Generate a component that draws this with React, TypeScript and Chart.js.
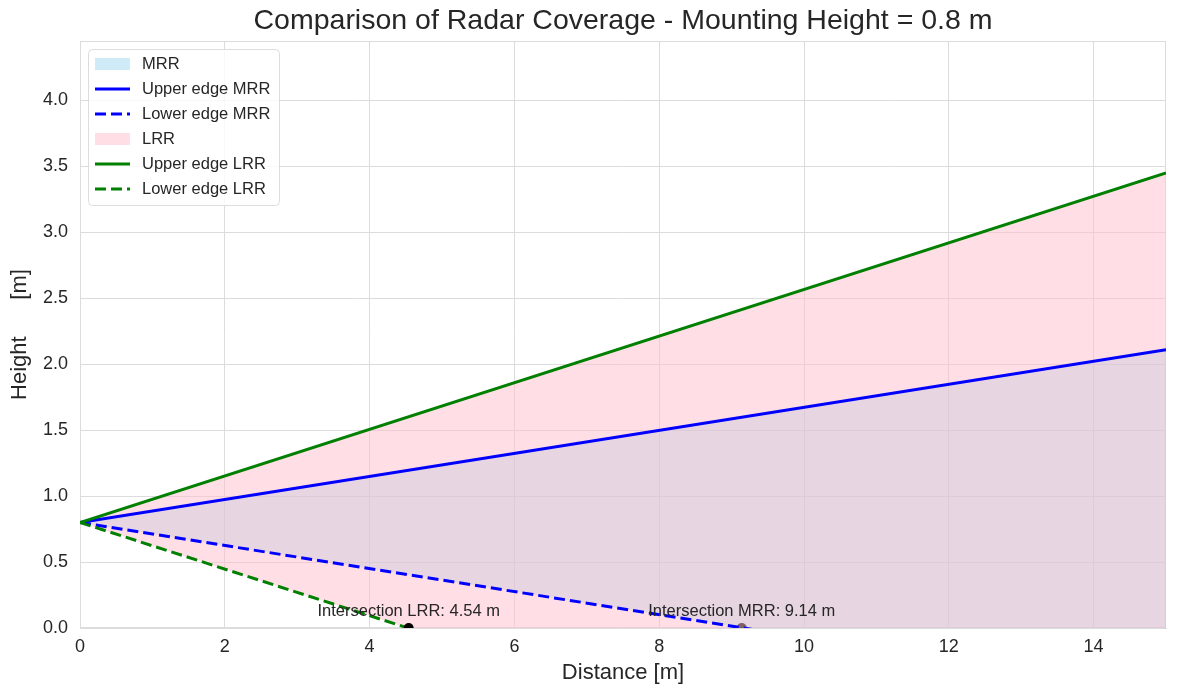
import { useEffect, useRef } from "react";
import { Chart, registerables } from "chart.js";

Chart.register(...registerables);

// distances [m] at which the edge lines are evaluated
const distance = [0, 15];
// edge heights [m] at those distances
const mrrUpper = [0.8, 2.11];
const mrrLower = [0.8, -0.51];
const lrrUpper = [0.8, 3.45];
const lrrLower = [0.8, -1.85];
// where the lower edges hit the ground
const intersectionLRR = 4.54;
const intersectionMRR = 9.14;
const intersectionLabels = ["Intersection LRR: 4.54 m", "Intersection MRR: 9.14 m"];
const legendLabels = ["MRR", "Upper edge MRR", "Lower edge MRR", "LRR", "Upper edge LRR", "Lower edge LRR"];

const FONT = "'Liberation Sans', Arial, sans-serif";
const TEXT = "#262626";
const GRID = "#dcdcdc";
const MRR_FILL = "rgba(135, 206, 235, 0.4)";
const LRR_FILL = "rgba(255, 192, 203, 0.5)";
const DASH = [11, 5];

const toPoints = (ys: number[]) => distance.map((x, i) => ({ x, y: ys[i] }));

const legendStyles = [
  { kind: "fill", color: MRR_FILL },
  { kind: "line", color: "#0000ff", dash: [] as number[] },
  { kind: "line", color: "#0000ff", dash: DASH },
  { kind: "fill", color: LRR_FILL },
  { kind: "line", color: "#008000", dash: [] as number[] },
  { kind: "line", color: "#008000", dash: DASH },
];

const decor = {
  id: "decor",
  beforeDatasetsDraw(chart: any) {
    const { ctx, chartArea } = chart;
    ctx.save();
    ctx.strokeStyle = GRID;
    ctx.lineWidth = 1;
    ctx.strokeRect(chartArea.left + 0.5, chartArea.top + 0.5, chartArea.right - chartArea.left - 1, chartArea.bottom - chartArea.top - 1);
    ctx.restore();
  },
  afterDatasetsDraw(chart: any) {
    const { ctx, chartArea, scales } = chart;
    ctx.save();

    // intersection labels
    ctx.font = `16.5px ${FONT}`;
    ctx.fillStyle = TEXT;
    ctx.textAlign = "center";
    ctx.textBaseline = "alphabetic";
    [intersectionLRR, intersectionMRR].forEach((x, i) => {
      ctx.fillText(intersectionLabels[i], scales.x.getPixelForValue(x), scales.y.getPixelForValue(0) - 12);
    });

    // legend box
    const bx = chartArea.left + 8;
    const by = chartArea.top + 8;
    ctx.beginPath();
    ctx.roundRect(bx + 0.5, by + 0.5, 191, 156, 4);
    ctx.fillStyle = "rgba(255,255,255,0.8)";
    ctx.fill();
    ctx.strokeStyle = "#dddddd";
    ctx.lineWidth = 1;
    ctx.stroke();

    legendLabels.forEach((label, i) => {
      const cy = by + 15 + 25 * i;
      const st = legendStyles[i];
      if (st.kind === "fill") {
        ctx.fillStyle = st.color;
        ctx.fillRect(bx + 7, cy - 6, 35, 12);
      } else {
        ctx.beginPath();
        ctx.setLineDash(st.dash || []);
        ctx.strokeStyle = st.color;
        ctx.lineWidth = 3;
        ctx.moveTo(bx + 7, cy);
        ctx.lineTo(bx + 42, cy);
        ctx.stroke();
        ctx.setLineDash([]);
      }
      ctx.font = `16.5px ${FONT}`;
      ctx.fillStyle = TEXT;
      ctx.textAlign = "left";
      ctx.textBaseline = "middle";
      ctx.fillText(label, bx + 54, cy);
    });
    ctx.restore();
  },
  afterDraw(chart: any) {
    const { ctx, chartArea } = chart;
    ctx.save();
    ctx.font = `28.5px ${FONT}`;
    ctx.fillStyle = TEXT;
    ctx.textAlign = "center";
    ctx.textBaseline = "middle";
    ctx.fillText("Comparison of Radar Coverage - Mounting Height = 0.8 m", (chartArea.left + chartArea.right) / 2, 21);
    ctx.restore();
  },
};

export default function App() {
  const canvasRef = useRef<HTMLCanvasElement | null>(null);

  useEffect(() => {
    if (canvasRef.current == null) return;
    const line = (ys: number[], color: string, order: number, dash: number[] = []) => ({
      data: toPoints(ys),
      borderColor: color,
      borderWidth: 3,
      borderDash: dash,
      pointRadius: 0,
      fill: false,
      order,
    });
    const dot = (x: number, order: number) => ({
      data: [{ x, y: 0 }],
      showLine: false,
      pointRadius: 5,
      pointBackgroundColor: "#000000",
      pointBorderWidth: 0,
      clip: 0,
      order,
    });

    const chart = new Chart(canvasRef.current, {
      type: "line",
      data: {
        datasets: [
          { data: toPoints(mrrUpper), borderWidth: 0, pointRadius: 0, backgroundColor: MRR_FILL, fill: 3, order: 10 },
          { data: toPoints(lrrUpper), borderWidth: 0, pointRadius: 0, backgroundColor: LRR_FILL, fill: 5, order: 8 },
          line(mrrUpper, "#0000ff", 7),
          line(mrrLower, "#0000ff", 6, DASH),
          line(lrrUpper, "#008000", 5),
          line(lrrLower, "#008000", 4, DASH),
          dot(intersectionMRR, 9),
          dot(intersectionLRR, 3),
        ] as any,
      },
      options: {
        animation: false,
        responsive: true,
        maintainAspectRatio: false,
        layout: { padding: { top: 41, right: 11, left: 0, bottom: 0 } },
        plugins: {
          legend: { display: false },
          title: { display: false },
          tooltip: { enabled: false },
        },
        scales: {
          x: {
            type: "linear",
            min: 0,
            max: 15,
            ticks: { stepSize: 2, includeBounds: false, padding: 8, color: TEXT, font: { family: FONT, size: 18 } },
            grid: { color: GRID, drawTicks: false },
            border: { color: GRID },
            title: { display: true, text: "Distance [m]", color: TEXT, font: { family: FONT, size: 22 }, padding: { top: 10, bottom: 10 } },
            afterFit: (s: any) => {
              s.height = 68;
            },
          },
          y: {
            type: "linear",
            min: 0,
            max: 4.45,
            ticks: {
              stepSize: 0.5,
              includeBounds: false,
              padding: 12,
              color: TEXT,
              font: { family: FONT, size: 18 },
              callback: (v: any) => Number(v).toFixed(1),
            },
            grid: { color: GRID, drawTicks: false },
            border: { color: GRID },
            title: { display: true, text: "Height      [m]", color: TEXT, font: { family: FONT, size: 22 }, padding: { top: 7, bottom: 7 } },
            afterFit: (s: any) => {
              s.width = 80;
            },
          },
        },
      } as any,
      plugins: [decor],
    });

    return () => {
      chart.destroy();
    };
  }, []);

  return (
    <div style={{ position: "fixed", left: 0, top: 0, width: 1177, height: 696, background: "#ffffff" }}>
      <canvas ref={canvasRef}></canvas>
    </div>
  );
}
